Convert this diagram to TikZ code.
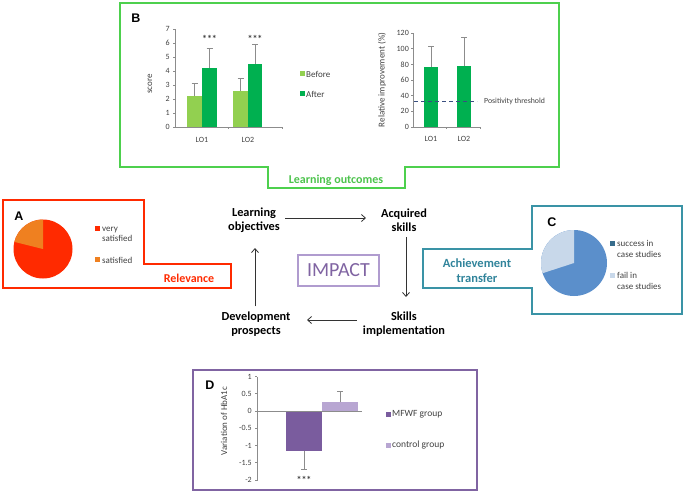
\documentclass[tikz,border=0pt]{standalone}
\usepackage{fontspec}
\setmainfont{Carlito}
\newfontfamily\arialf{Liberation Sans}
\usetikzlibrary{arrows.meta}
\definecolor{grn}{HTML}{4DD04D}
\definecolor{grntxt}{HTML}{4CC34C}
\definecolor{lgbar}{HTML}{92D050}
\definecolor{dgbar}{HTML}{00B050}
\definecolor{redc}{HTML}{FF2A00}
\definecolor{orng}{HTML}{EF8020}
\definecolor{tealc}{HTML}{3A93A6}
\definecolor{tealtxt}{HTML}{31849B}
\definecolor{bluepie}{HTML}{5B8FCB}
\definecolor{lbluepie}{HTML}{C8D8EA}
\definecolor{dbluesq}{HTML}{376C8C}
\definecolor{purp}{HTML}{8064A2}
\definecolor{purpdk}{HTML}{7A5C9E}
\definecolor{purplt}{HTML}{B8A6D2}
\definecolor{impb}{HTML}{B09CCF}
\definecolor{axg}{HTML}{8C8C8C}
\definecolor{txg}{HTML}{404040}
\definecolor{dashc}{HTML}{3A4F80}
\tikzset{
  x=1pt,y=-1pt,
  tick/.style={font=\fontsize{8}{9}\selectfont,text=txg,inner sep=0pt},
  legtxt/.style={font=\fontsize{9}{10.5}\selectfont,text=txg,inner sep=0pt,anchor=west,align=left},
  axis/.style={draw=axg,line width=0.6pt},
  errb/.style={draw=axg,line width=0.9pt},
  panel/.style={font=\arialf\bfseries\fontsize{12.5}{13}\selectfont,inner sep=0pt},
  maintxt/.style={font=\bfseries\fontsize{12.3}{14.5}\selectfont,align=center,inner sep=1pt},
  flow/.style={-{Straight Barb[length=4pt,width=7pt]},line width=0.8pt,draw=black!80},
  stars/.style={font=\bfseries\fontsize{10}{10}\selectfont,text=txg,inner sep=0pt},
}
\begin{document}
\begin{tikzpicture}
\useasboundingbox (0,0) rectangle (685,493);
% ---------------- Panel B (green) ----------------
\draw[grn,line width=2pt] (120,3) -- (559,3) -- (559,167) -- (405,167) -- (405,188) -- (268,188) -- (268,167) -- (120,167) -- cycle;
\node[font=\bfseries\fontsize{12}{14}\selectfont,text=grntxt] (lo) at (336,180) {Learning outcomes};
\node[panel] (pB) at (136,18) {B};
% left chart
\foreach \v in {0,...,7} {
  \draw[axg,line width=0.6pt] (173,127-14*\v) -- (175,127-14*\v);
  \node[tick,anchor=east] at (170,127-14*\v) {\v};
}
\draw[axis] (175,29) -- (175,127) -- (282,127);
\foreach \xx in {228,282} \draw[axg,line width=0.6pt] (\xx,127) -- (\xx,129);
\fill[lgbar] (187,127) rectangle (202,127-14*2.2);
\fill[dgbar] (202,127) rectangle (217,127-14*4.2);
\fill[lgbar] (233,127) rectangle (248,127-14*2.6);
\fill[dgbar] (248,127) rectangle (262,127-14*4.5);
\draw[errb] (194.5,127-14*2.2) -- (194.5,127-14*3.1) ++(-3,0) -- ++(6,0);
\draw[errb] (209.5,127-14*4.2) -- (209.5,127-14*5.6) ++(-3,0) -- ++(6,0);
\draw[errb] (240.5,127-14*2.6) -- (240.5,127-14*3.5) ++(-3,0) -- ++(6,0);
\draw[errb] (255,127-14*4.5) -- (255,127-14*5.9) ++(-3,0) -- ++(6,0);
\node[stars] (s1) at (209.5,39) {*{}*{}*};
\node[stars] (s2) at (255,39) {*{}*{}*};
\node[tick] (l1) at (202,140) {LO1};
\node[tick] (l2) at (248,140) {LO2};
\node[tick,rotate=90,font=\fontsize{9}{9}\selectfont] (sc) at (150,84) {score};
\fill[lgbar] (299.5,71) rectangle ++(5,5);
\node[legtxt] (bef) at (306,74) {Before};
\fill[dgbar] (299.5,91) rectangle ++(5,5);
\node[legtxt] (aft) at (306,94) {After};
% right chart
\foreach \v in {0,20,...,120} {
  \draw[axg,line width=0.6pt] (411,127-0.783*\v) -- (413,127-0.783*\v);
  \node[tick,anchor=east] at (409,127-0.783*\v) {\v};
}
\draw[axis] (413,33) -- (413,127) -- (480,127);
\foreach \xx in {446,480} \draw[axg,line width=0.6pt] (\xx,127) -- (\xx,129);
\fill[dgbar] (424,127) rectangle (438,127-0.783*77);
\fill[dgbar] (457,127) rectangle (471,127-0.783*78);
\draw[errb] (431,127-0.783*77) -- (431,127-0.783*103) ++(-3,0) -- ++(6,0);
\draw[errb] (464,127-0.783*78) -- (464,127-0.783*114) ++(-3,0) -- ++(6,0);
\draw[draw=dashc,line width=0.9pt,dash pattern=on 4pt off 3pt] (414,101) -- (477,101);
\node[legtxt,font=\fontsize{7.8}{9}\selectfont] (pt) at (484,101) {Positivity threshold};
\node[tick] (r1) at (431,139) {LO1};
\node[tick] (r2) at (464,139) {LO2};
\node[tick,rotate=90,font=\fontsize{9}{9}\selectfont] (ri) at (382,80) {Relative improvement (\%)};
% ---------------- Panel A (red) ----------------
\draw[redc,line width=2pt] (3,200) -- (144,200) -- (144,264) -- (231,264) -- (231,288) -- (3,288) -- cycle;
\node[font=\bfseries\fontsize{12}{14}\selectfont,text=redc] (rel) at (189,278) {Relevance};
\node[panel] (pA) at (19,216) {A};
\fill[redc] (43,249) circle[radius=29.5];
\fill[orng] (43,249) -- ++(-90:29.5) arc[start angle=-90,end angle=-166,radius=29.5] -- cycle;
\fill[redc] (95,226) rectangle ++(5,5);
\node[legtxt] (vs) at (102,234.5) {very\\satisfied};
\fill[orng] (95,257) rectangle ++(5,5);
\node[legtxt] (sa) at (102,260) {satisfied};
% ---------------- Panel C (teal) ----------------
\draw[tealc,line width=2pt] (532,206) -- (682,206) -- (682,314) -- (532,314) -- (532,288) -- (423,288) -- (423,249) -- (532,249) -- cycle;
\node[font=\bfseries\fontsize{12.5}{15}\selectfont,text=tealtxt,align=center] (at) at (477,270.5) {Achievement\\transfer};
\node[panel] (pC) at (552,222) {C};
\fill[bluepie] (574,263) circle[radius=33];
\fill[lbluepie] (574,263) -- ++(-90:33) arc[start angle=-90,end angle=-198,radius=33] -- cycle;
\fill[dbluesq] (609.5,240.5) rectangle ++(5,5);
\node[legtxt] (su) at (617,249) {success in\\case studies};
\fill[lbluepie] (609.5,272.5) rectangle ++(5,5);
\node[legtxt] (fa) at (617,281) {fail in\\case studies};
% ---------------- Panel D (purple) ----------------
\draw[purp,line width=2pt] (193,370) rectangle (477,490);
\node[panel] (pD) at (210,385) {D};
\foreach \v/\lab in {1/1,0.5/0.5,0/0,-0.5/-0.5,-1/-1,-1.5/-1.5,-2/-2} {
  \draw[axg,line width=0.6pt] (255,411-34.5*\v) -- (257,411-34.5*\v);
  \node[tick,anchor=east] at (252,411-34.5*\v) {\lab};
}
\draw[axis] (257,377) -- (257,481);
\fill[purpdk] (286,411) rectangle (322,411+34.5*1.17);
\fill[purplt] (322,411) rectangle (358,411-34.5*0.25);
\draw[axis] (257,411) -- (362,411);
\draw[errb] (304,411+34.5*1.17) -- (304,411+34.5*1.7) ++(-3,0) -- ++(6,0);
\draw[errb] (340,411-34.5*0.25) -- (340,411-34.5*0.57) ++(-3,0) -- ++(6,0);
\node[stars] (s3) at (304,480) {*{}*{}*};
\node[tick,rotate=90,font=\fontsize{9}{9}\selectfont] (hb) at (224,421) {Variation of HbA1c};
\fill[purpdk] (385.5,411.5) rectangle ++(5,5);
\node[legtxt,font=\fontsize{9.5}{10}\selectfont] (mf) at (392,414) {MFWF group};
\fill[purplt] (385.5,442.5) rectangle ++(5,5);
\node[legtxt,font=\fontsize{9.5}{10}\selectfont] (cg) at (392,445) {control group};
% ---------------- Centre cycle ----------------
\node[maintxt] (lobj) at (254,220) {Learning\\objectives};
\node[maintxt] (acq) at (404,220) {Acquired\\skills};
\node[maintxt] (impl) at (404,324) {Skills\\implementation};
\node[maintxt] (dev) at (256,324) {Development\\prospects};
\node[draw=impb,line width=1.4pt,minimum width=81pt,minimum height=31pt,inner sep=0pt,text=purp,font=\fontsize{20}{20}\selectfont] (imp) at (338.5,270.5) {IMPACT};
\draw[flow] (lobj.east |- 0,218) ++(4,0) coordinate (a1) -- (366,218) coordinate (a2);
\draw[flow] (acq.south) ++(2,4) -- (406,297);
\draw[flow] (impl.west |- 0,320) ++(-5,0) -- (307,320);
\draw[flow] (dev.north) ++(-1,-4) -- (255,248);
\end{tikzpicture}
\end{document}
